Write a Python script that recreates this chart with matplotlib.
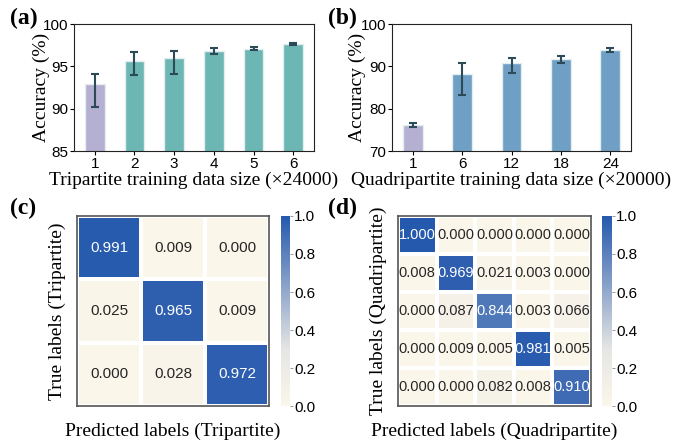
import numpy as np
import matplotlib
matplotlib.use("Agg")
import matplotlib.pyplot as plt
from matplotlib.colors import LinearSegmentedColormap

# bar data (a)
tri_sizes = ["1", "2", "3", "4", "5", "6"]
tri_acc = [92.9, 95.6, 96.0, 96.8, 97.1, 97.6]
tri_err_lo = [2.75, 1.6, 1.9, 0.4, 0.2, 0.1]
tri_err_hi = [1.25, 1.05, 0.8, 0.4, 0.15, 0.1]

# bar data (b)
quad_sizes = ["1", "6", "12", "18", "24"]
quad_acc = [76.2, 88.3, 90.9, 91.7, 93.8]
quad_err_lo = [0.5, 5.1, 2.5, 0.8, 0.5]
quad_err_hi = [0.5, 2.4, 1.1, 0.8, 0.5]

# confusion matrices
cm_tri = np.array([
    [0.991, 0.009, 0.000],
    [0.025, 0.965, 0.009],
    [0.000, 0.028, 0.972],
])
cm_quad = np.array([
    [1.000, 0.000, 0.000, 0.000, 0.000],
    [0.008, 0.969, 0.021, 0.003, 0.000],
    [0.000, 0.087, 0.844, 0.003, 0.066],
    [0.000, 0.009, 0.005, 0.981, 0.005],
    [0.000, 0.000, 0.082, 0.008, 0.910],
])

serif = "Liberation Serif"
sans = "Liberation Sans"
plt.rcParams["font.family"] = sans

W, H = 676, 441
fig = plt.figure(figsize=(W / 100, H / 100), dpi=100)


def px_axes(x0, y0, x1, y1):
    # pixel box (top-left origin) -> figure axes
    return fig.add_axes([x0 / W, 1 - y1 / H, (x1 - x0) / W, (y1 - y0) / H])


purple = "#b5afd1"
teal = "#6cb6b3"
steel = "#6f9fc4"
err_col = "#2c4a58"


def bar_panel(ax, labels, acc, lo, hi, main_col, width, ylim, yticks, xlabel, ylab_x):
    x = np.arange(len(labels))
    cols = [purple] + [main_col] * (len(labels) - 1)
    ax.bar(x, acc, width=width, color=cols, edgecolor="#e3eef0", linewidth=1.0)
    ax.errorbar(x, acc, yerr=[lo, hi], fmt="none", ecolor=err_col,
                elinewidth=1.5, capsize=3, capthick=1.5)
    ax.set_xticks(x)
    ax.set_xticklabels(labels)
    ax.set_ylim(*ylim)
    ax.set_yticks(yticks)
    ax.tick_params(labelsize=11, length=3, pad=1)
    ax.set_xlabel(xlabel, fontfamily=serif, fontsize=14, labelpad=1)
    ax.set_ylabel("Accuracy (%)", fontfamily=serif, fontsize=14)
    ax.yaxis.set_label_coords(ylab_x, 0.5)
    for s in ax.spines.values():
        s.set_color("#222222")


ax_a = px_axes(74, 24, 314, 151)
bar_panel(ax_a, tri_sizes, tri_acc, tri_err_lo, tri_err_hi, teal, 0.5,
          (85, 100), [85, 90, 95, 100], "Tripartite training data size (×24000)", -0.10)

ax_b = px_axes(392, 24, 631, 151)
bar_panel(ax_b, quad_sizes, quad_acc, quad_err_lo, quad_err_hi, steel, 0.4,
          (70, 100), [70, 80, 90, 100], "Quadripartite training data size (×20000)", -0.11)

cmap = LinearSegmentedColormap.from_list(
    "cream_blue", [(0.0, "#fbf6ea"), (0.3, "#e5e5e3"), (1.0, "#2559ad")])


def heat_panel(ax, cax, cm, fs, ylabel, xlabel):
    n = cm.shape[0]
    mesh = ax.pcolormesh(cm, cmap=cmap, vmin=0, vmax=1,
                         edgecolors="white", linewidth=1.5)
    ax.set_xlim(0, n)
    ax.set_ylim(n, 0)
    ax.set_xticks([])
    ax.set_yticks([])
    for i in range(n):
        for j in range(n):
            v = cm[i, j]
            ax.text(j + 0.5, i + 0.5, f"{v:.3f}", ha="center", va="center",
                    fontsize=fs, color="white" if v > 0.5 else "#262626")
    for s in ax.spines.values():
        s.set_color("#555555")
        s.set_linewidth(1.2)
    ax.set_ylabel(ylabel, fontfamily=serif, fontsize=14, labelpad=8)
    ax.set_xlabel(xlabel, fontfamily=serif, fontsize=14, labelpad=12)
    cb = fig.colorbar(mesh, cax=cax)
    cb.outline.set_visible(False)
    cb.set_ticks([0.0, 0.2, 0.4, 0.6, 0.8, 1.0])
    cb.ax.tick_params(labelsize=11, length=2, width=0.6, pad=1, color="#888888")


ax_c = px_axes(77, 216, 269, 406)
cax_c = px_axes(281, 216, 290, 406)
heat_panel(ax_c, cax_c, cm_tri, 11, "True labels (Tripartite)",
           "Predicted labels (Tripartite)")

ax_d = px_axes(398, 216, 591, 406)
cax_d = px_axes(602, 216, 612, 406)
heat_panel(ax_d, cax_d, cm_quad, 10.5, "True labels (Quadripartite)",
           "Predicted labels (Quadripartite)")

for lab, xp, yp in [("(a)", 10, 18), ("(b)", 328, 18), ("(c)", 10, 208), ("(d)", 328, 208)]:
    fig.text(xp / W, 1 - yp / H, lab, fontfamily=serif, fontweight="bold",
             fontsize=17, ha="left", va="center")

fig.savefig("out.png", dpi=100)
